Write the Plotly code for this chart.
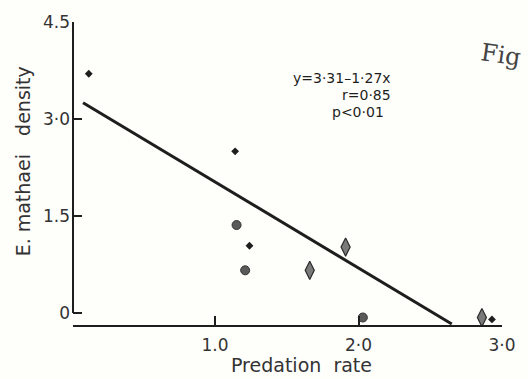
import plotly.graph_objects as go

# ---- data ----
small_x = [0.12, 1.14, 1.24, 2.93]
small_y = [3.70, 2.50, 1.04, -0.10]

circle_x = [1.15, 1.21, 2.03]
circle_y = [1.36, 0.66, -0.07]

tall_x = [1.66, 1.91, 2.86]
tall_y = [0.66, 1.02, -0.07]

fit_x = [0.08, 2.65]
fit_y = [3.25, -0.17]

x_ticks = [1, 2, 3]
x_tick_text = ["1.0", "2·0", "3·0"]
y_ticks = [0, 1.5, 3.0, 4.5]
y_tick_text = ["0", "1.5", "3·0", "4.5"]

ink = "#1e1e1e"
font_main = "DejaVu Sans"

W, H = 528, 379
L, R, T, B = 72.5, 19, 22, 54
PW, PH = W - L - R, H - T - B


def px(xpix):
    return (xpix - L) / PW


def py(ypix):
    return (H - B - ypix) / PH


fig = go.Figure()

fig.add_trace(go.Scatter(x=fit_x, y=fit_y, mode="lines",
                         line=dict(color=ink, width=3), hoverinfo="skip"))
fig.add_trace(go.Scatter(x=small_x, y=small_y, mode="markers",
                         marker=dict(symbol="diamond", size=6, color=ink)))
fig.add_trace(go.Scatter(x=circle_x, y=circle_y, mode="markers",
                         marker=dict(symbol="circle", size=9, color="#5a5a5a",
                                     line=dict(color="#333", width=1))))
fig.add_trace(go.Scatter(x=tall_x, y=tall_y, mode="markers",
                         marker=dict(symbol="diamond-tall", size=13, color="#7a7a7a",
                                     line=dict(color="#2a2a2a", width=1.2))))

# y axis line (stops at 0, separate from the x axis)
fig.add_shape(type="line", xref="paper", yref="y", x0=0, x1=0, y0=0, y1=4.5,
              line=dict(color=ink, width=2))

fig.update_layout(
    width=W, height=H,
    margin=dict(l=L, r=R, t=T, b=B),
    paper_bgcolor="#fefefb", plot_bgcolor="#fefefb",
    showlegend=False,
    font=dict(family=font_main, color=ink, size=16),
    xaxis=dict(range=[0.01, 3.0], showgrid=False, zeroline=False,
               showline=True, linecolor=ink, linewidth=2,
               ticks="inside", ticklen=9, tickwidth=2, tickcolor=ink,
               tickvals=x_ticks, ticktext=x_tick_text,
               tickfont=dict(size=17, family=font_main, color="#333"),
               ticklabelstandoff=4),
    yaxis=dict(range=[-0.186, 4.5], showgrid=False, zeroline=False,
               showline=False,
               ticks="inside", ticklen=9, tickwidth=2, tickcolor=ink,
               tickvals=y_ticks, ticktext=y_tick_text,
               tickfont=dict(size=17, family=font_main, color="#333"),
               ticklabelstandoff=2),
)

ann = [
    dict(x=398, y=78, text="y=3·31–1·27x"),
    dict(x=398, y=95, text="r=0·85"),
    dict(x=391, y=112, text="p<0·01"),
]
for a in ann:
    fig.add_annotation(x=px(a["x"]), y=py(a["y"]), xref="paper", yref="paper",
                       text=a["text"], showarrow=False, xanchor="right",
                       yanchor="middle", font=dict(size=14, family=font_main, color=ink))

fig.add_annotation(x=px(305), y=py(365), xref="paper", yref="paper",
                   text="Predation  rate", showarrow=False, xanchor="center", yanchor="middle",
                   font=dict(size=19, family=font_main, color="#333"))
fig.add_annotation(x=px(22), y=py(161), xref="paper", yref="paper",
                   text="E. mathaei   density", showarrow=False, textangle=-90,
                   xanchor="center", yanchor="middle",
                   font=dict(size=19, family=font_main, color="#333"))
fig.add_annotation(x=px(484), y=py(55), xref="paper", yref="paper",
                   text="Fig", showarrow=False, xanchor="left", yanchor="middle",
                   textangle=8,
                   font=dict(size=24, family="DejaVu Serif", color="#444"))

fig.write_html("out.html", config={"displayModeBar": False},
               post_script="document.body.style.margin='0';document.body.style.overflow='hidden';")
